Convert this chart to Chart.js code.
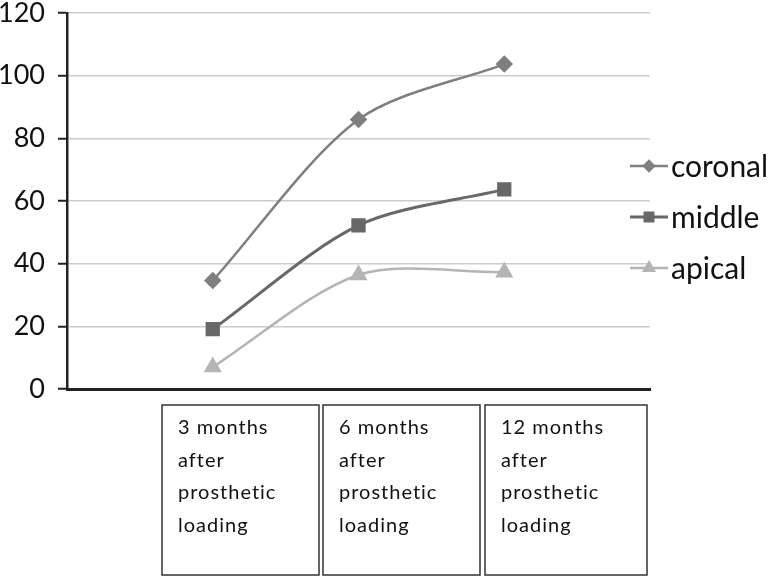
<!DOCTYPE html>
<html>
<head>
<meta charset="utf-8">
<script src="https://cdn.jsdelivr.net/npm/chart.js@4/dist/chart.umd.min.js"></script>
<style>
  html, body { margin: 0; padding: 0; background: #fff; }
  #wrap { width: 774px; height: 576px; }
</style>
</head>
<body>
<div id="wrap"><canvas id="chartLoad" width="774" height="576"></canvas></div>
<script>
// data
const periods = [1, 2, 3];
const periodLabels = [
    ['3 months', 'after', 'prosthetic', 'loading'],
    ['6 months', 'after', 'prosthetic', 'loading'],
    ['12 months', 'after', 'prosthetic', 'loading']
];
const seriesNames = ['coronal', 'middle', 'apical'];
const coronal = [34.6, 86.0, 103.7];
const middle = [19.1, 52.2, 63.7];
const apical = [7.0, 36.4, 37.3];
const yTicks = [0, 20, 40, 60, 80, 100, 120];

const FONT = 'Lato, "Open Sans", sans-serif';

function toPoints(vals) {
    return vals.map((v, i) => ({ x: periods[i], y: v }));
}

// boxes under the axis and the legend on the right
const decorations = {
    id: 'decorations',
    afterDraw(chart) {
        const ctx = chart.ctx;
        ctx.save();

        // category boxes
        const boxLeft = [162, 323, 485];
        const boxRight = [319, 480, 647];
        const boxTop = 405, boxBottom = 575;
        ctx.strokeStyle = '#333';
        ctx.lineWidth = 1.5;
        ctx.fillStyle = '#111';
        ctx.font = '20px ' + FONT;
        ctx.textBaseline = 'middle';
        ctx.textAlign = 'left';
        ctx.letterSpacing = '1px';
        for (let i = 0; i < periodLabels.length; i++) {
            ctx.strokeRect(boxLeft[i], boxTop, boxRight[i] - boxLeft[i], boxBottom - boxTop);
            periodLabels[i].forEach((line, j) => {
                ctx.fillText(line, boxLeft[i] + 16, 428 + j * 32.5);
            });
        }
        ctx.letterSpacing = '0px';

        // legend
        const legY = [166, 217, 268];
        chart.data.datasets.forEach((ds, i) => {
            const y = legY[i];
            ctx.strokeStyle = ds.borderColor;
            ctx.lineWidth = ds.borderWidth;
            ctx.beginPath();
            ctx.moveTo(630, y);
            ctx.lineTo(668, y);
            ctx.stroke();
            ctx.fillStyle = ds.pointBackgroundColor;
            ctx.strokeStyle = ds.pointBackgroundColor;
            Chart.helpers.drawPoint(ctx, {
                pointStyle: ds.pointStyle,
                radius: ds.pointRadius * 0.7,
                rotation: 0,
                borderWidth: 1
            }, 649, y);
            ctx.fillStyle = '#111';
            ctx.font = '30px ' + FONT;
            ctx.textAlign = 'left';
            ctx.textBaseline = 'middle';
            ctx.fillText(ds.label, 671, y + 1);
        });

        ctx.restore();
    }
};

const ctx1 = document.getElementById('chartLoad').getContext('2d');
const loadChart = new Chart(ctx1, {
    type: 'line',
    data: {
        datasets: [
            {
                label: seriesNames[0],
                data: toPoints(coronal),
                borderColor: '#7f7f7f',
                backgroundColor: '#7f7f7f',
                pointBackgroundColor: '#7f7f7f',
                pointBorderColor: '#7f7f7f',
                borderWidth: 2.5,
                pointStyle: 'rectRot',
                pointRadius: 7,
                tension: 0.3
            },
            {
                label: seriesNames[1],
                data: toPoints(middle),
                borderColor: '#686868',
                backgroundColor: '#686868',
                pointBackgroundColor: '#686868',
                pointBorderColor: '#686868',
                borderWidth: 3,
                pointStyle: 'rect',
                pointRadius: 8,
                tension: 0.3
            },
            {
                label: seriesNames[2],
                data: toPoints(apical),
                borderColor: '#b4b4b4',
                backgroundColor: '#b4b4b4',
                pointBackgroundColor: '#b4b4b4',
                pointBorderColor: '#b4b4b4',
                borderWidth: 2.5,
                pointStyle: 'triangle',
                pointRadius: 8,
                tension: 0.3
            }
        ]
    },
    options: {
        responsive: false,
        animation: false,
        layout: { padding: { left: 0, right: 124, top: 13, bottom: 0 } },
        plugins: {
            legend: { display: false },
            tooltip: { enabled: false }
        },
        scales: {
            x: {
                type: 'linear',
                min: 0,
                max: 4,
                ticks: { display: false },
                grid: { display: false, drawTicks: false },
                border: { display: true, color: '#222', width: 3 },
                afterFit(scale) { scale.height = 187; }
            },
            y: {
                min: 0,
                max: 120,
                afterBuildTicks(scale) {
                    scale.ticks = yTicks.map(v => ({ value: v }));
                },
                ticks: {
                    color: '#111',
                    font: { family: FONT, size: 27 },
                    padding: 13
                },
                grid: {
                    color: '#cccccc',
                    lineWidth: 1.5,
                    tickColor: '#222',
                    tickLength: 9,
                    tickWidth: 2
                },
                border: { display: true, color: '#222', width: 2.5 },
                afterFit(scale) {
                    scale.width = 67;
                    scale.paddingTop = 0;
                    scale.paddingBottom = 0;
                }
            }
        }
    },
    plugins: [decorations]
});
</script>
</body>
</html>
